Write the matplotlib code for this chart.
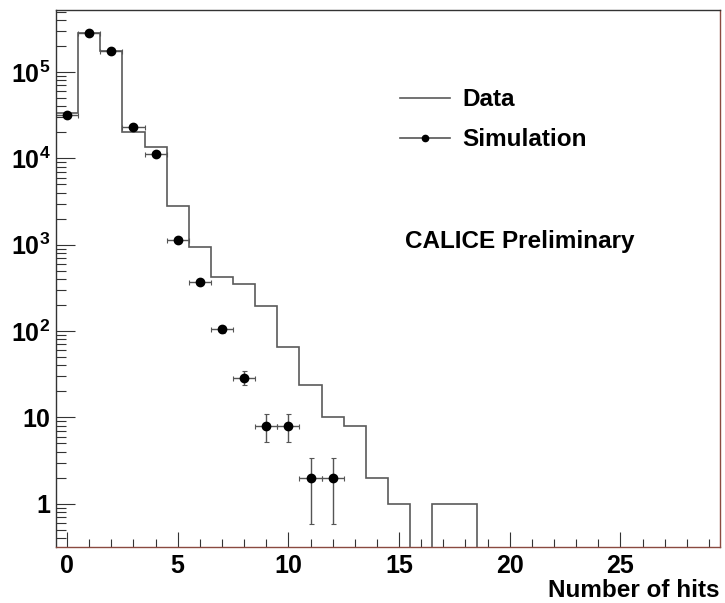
import numpy as np
import matplotlib
matplotlib.use("Agg")
import matplotlib.pyplot as plt
from matplotlib.lines import Line2D
from matplotlib.ticker import FixedLocator, FixedFormatter, LogLocator, NullFormatter, MultipleLocator

plt.rcParams['font.family'] = ['Liberation Sans', 'DejaVu Sans']
plt.rcParams['font.weight'] = 'bold'
plt.rcParams['mathtext.fontset'] = 'custom'
plt.rcParams['mathtext.rm'] = 'Liberation Sans:bold'
plt.rcParams['mathtext.bf'] = 'Liberation Sans:bold'

# data histogram, one entry per bin (bins centred on 0,1,2,...,29)
data_counts = [33500, 280000, 175000, 20400, 13600, 2800, 950, 425, 350, 193,
               65, 24, 10, 8, 2, 1, 0, 1, 1, 0,
               0, 0, 0, 0, 0, 0, 0, 0, 0, 0]
# simulation points
sim_hits = [0, 1, 2, 3, 4, 5, 6, 7, 8, 9, 10, 11, 12]
sim_counts = [32000, 280000, 175000, 23300, 11100, 1140, 370, 105, 29, 8, 8, 2, 2]

ytick_vals = [1, 10, 100, 1000, 10000, 100000]
ytick_labels = ['1', '10', r'$\mathbf{10^{2}}$', r'$\mathbf{10^{3}}$',
                r'$\mathbf{10^{4}}$', r'$\mathbf{10^{5}}$']

edges = np.arange(len(data_counts) + 1) - 0.5
counts = np.array(data_counts, dtype=float)
counts[counts <= 0] = 1e-3   # empty bins drawn at the floor

sim_counts = np.array(sim_counts, dtype=float)
sim_err = np.sqrt(sim_counts)

fig = plt.figure(figsize=(7.25, 6.03), dpi=100)
ax = fig.add_axes([0.0772, 0.0929, 0.9159, 0.8905])

ax.stairs(counts, edges, baseline=1e-3, color='#5a5a5a', lw=1.2, label='Data')
ax.errorbar(sim_hits, sim_counts, yerr=sim_err, xerr=0.5, fmt='o', color='black',
            ms=6, ecolor='#555555', elinewidth=1.0, capsize=1.8, capthick=0.8)

ax.set_yscale('log')
ax.set_xlim(-0.5, 29.5)
ax.set_ylim(10 ** -0.5, 10 ** 5.718)

ax.yaxis.set_major_locator(FixedLocator(ytick_vals))
ax.yaxis.set_major_formatter(FixedFormatter(ytick_labels))
ax.yaxis.set_minor_locator(LogLocator(base=10, subs=np.arange(2, 10)))
ax.yaxis.set_minor_formatter(NullFormatter())
ax.xaxis.set_major_locator(MultipleLocator(5))
ax.xaxis.set_minor_locator(MultipleLocator(1))

ax.tick_params(axis='both', which='both', direction='in', top=False, right=False,
               labelsize=18, width=0.8, color='#333333')
ax.tick_params(axis='y', which='major', length=14, pad=4)
ax.tick_params(axis='y', which='minor', length=7)
ax.tick_params(axis='x', which='major', length=11, pad=5)
ax.tick_params(axis='x', which='minor', length=6)

for side in ['left', 'top']:
    ax.spines[side].set_color('#333333')
for side in ['bottom', 'right']:
    ax.spines[side].set_color('#8a4a40')
for side in ax.spines:
    ax.spines[side].set_linewidth(1.0)

ax.set_xlabel('Number of hits', fontsize=17.5, fontweight='bold', loc='right', labelpad=1)

handles = [Line2D([], [], color='#5a5a5a', lw=1.2),
           Line2D([], [], color='#555555', lw=1.2, marker='o', ms=4.5, mfc='black', mec='black')]
ax.legend(handles, ['Data', 'Simulation'], loc='upper left', bbox_to_anchor=(0.518, 0.854),
          frameon=False, fontsize=17.5, handlelength=2.05, handletextpad=0.5,
          labelspacing=0.7, borderpad=0, borderaxespad=0)

ax.text(0.5256, 0.568, 'CALICE Preliminary', transform=ax.transAxes, fontsize=17.5,
        fontweight='bold', ha='left', va='center')

fig.savefig('out.png', dpi=100)
